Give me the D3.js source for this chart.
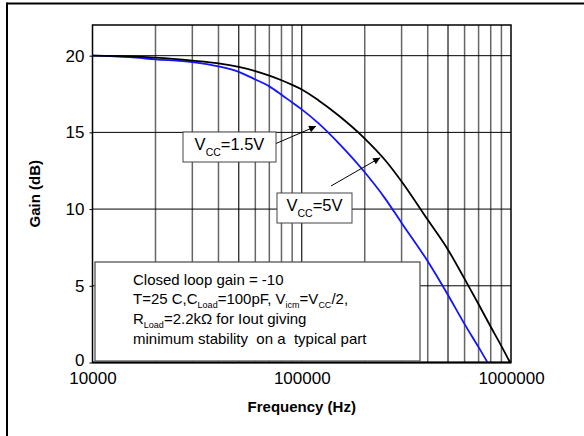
<!DOCTYPE html>
<html lang="en">
<head>
<meta charset="utf-8">
<script src="https://d3js.org/d3.v7.min.js"></script>
<style>
  body { margin: 0; background: #fff; }
  text { font-family: "Liberation Sans", Arial, Helvetica, sans-serif; }
</style>
</head>
<body>
<script>
// Vcc = 5V (black curve)
var freq5V = [10000, 15000, 20000, 30000, 40000, 50000, 60000, 70000, 80000, 90000,
              100000, 120000, 150000, 200000, 250000, 300000, 400000, 500000,
              600000, 700000, 800000, 900000, 990000];
var gain5V = [20.0, 19.95, 19.87, 19.68, 19.5, 19.27, 19.0, 18.7, 18.4, 18.1,
              17.8, 17.1, 16.1, 14.6, 13.2, 11.8, 9.3, 7.35,
              5.45, 3.8, 2.33, 1.07, 0];

// Vcc = 1.5V (blue curve)
var freq15V = [10000, 15000, 20000, 30000, 40000, 50000, 60000, 70000, 80000, 90000,
               100000, 120000, 150000, 200000, 250000, 300000, 400000, 500000,
               600000, 700000, 773000];
var gain15V = [20.0, 19.9, 19.76, 19.58, 19.3, 18.95, 18.45, 18.0, 17.46, 16.95,
               16.5, 15.6, 14.3, 12.4, 10.7, 9.1, 6.6, 4.4,
               2.5, 1.0, 0];

var xTicks = [10000, 100000, 1000000];
var yTicks = [0, 5, 10, 15, 20];

var width = 584, height = 436;
var pLeft = 92.5, pRight = 511, pTop = 25, pBottom = 362.5;

var svg = d3.select("body").append("svg")
    .attr("width", width)
    .attr("height", height);

// outer frame (top + left only)
svg.append("line").attr("x1", 7).attr("x2", width).attr("y1", 3.5).attr("y2", 3.5)
    .attr("stroke", "#000").attr("stroke-width", 2);
svg.append("line").attr("x1", 7).attr("x2", 7).attr("y1", 2.5).attr("y2", height)
    .attr("stroke", "#000").attr("stroke-width", 2);

var x = d3.scaleLog().domain([10000, 1000000]).range([pLeft, pRight]);
var y = d3.scaleLinear().domain([0, 22]).range([pBottom, pTop]);

// vertical grid: every 1..9 x decade
var vgrid = [];
for (var dec = 10000; dec < 1000000; dec *= 10) {
    for (var m = 2; m <= 9; m++) vgrid.push({ v: dec * m, m: m });
}
vgrid.push({ v: 100000, m: 1 });

svg.append("g").selectAll("line")
    .data(vgrid)
    .enter().append("line")
    .attr("x1", function (d) { return x(d.v); })
    .attr("x2", function (d) { return x(d.v); })
    .attr("y1", pTop).attr("y2", pBottom)
    .attr("stroke", function (d) { return (d.m == 1 || d.m == 5) ? "#000" : "#666"; })
    .attr("stroke-width", function (d) { return (d.m == 1 || d.m == 5) ? 1.1 : 1.5; });

// horizontal grid
svg.append("g").selectAll("line")
    .data(yTicks.filter(function (d) { return d > 0; }))
    .enter().append("line")
    .attr("x1", pLeft).attr("x2", pRight)
    .attr("y1", function (d) { return y(d); })
    .attr("y2", function (d) { return y(d); })
    .attr("stroke", "#000").attr("stroke-width", 1);

// axes
var xAxis = d3.axisBottom(x).tickValues(xTicks).tickSize(0).tickPadding(9)
    .tickFormat(d3.format("d"));
var gx = svg.append("g").attr("transform", "translate(0," + pBottom + ")").call(xAxis);
gx.select(".domain").remove();
gx.selectAll("text").attr("font-size", 17).attr("fill", "#000")
    .style("font-family", "'Liberation Sans', Arial, sans-serif");

var yAxis = d3.axisLeft(y).tickValues(yTicks).tickSize(3).tickPadding(5);
var gy = svg.append("g").attr("transform", "translate(" + pLeft + ",0)").call(yAxis);
gy.select(".domain").remove();
gy.selectAll("text").attr("font-size", 17).attr("fill", "#000")
    .style("font-family", "'Liberation Sans', Arial, sans-serif");
gy.selectAll(".tick").filter(function (d) { return d === 0; })
    .select("text").attr("dy", "0.2em");

// plot frame
svg.append("rect")
    .attr("x", pLeft).attr("y", pTop)
    .attr("width", pRight - pLeft).attr("height", pBottom - pTop)
    .attr("fill", "none").attr("stroke", "#000").attr("stroke-width", 1.5);

// curves
var line = d3.line()
    .curve(d3.curveMonotoneX)
    .x(function (d) { return x(d[0]); })
    .y(function (d) { return y(d[1]); });

svg.append("path")
    .datum(d3.zip(freq15V, gain15V))
    .attr("d", line)
    .attr("fill", "none").attr("stroke", "#1414ff").attr("stroke-width", 1.8);

svg.append("path")
    .datum(d3.zip(freq5V, gain5V))
    .attr("d", line)
    .attr("fill", "none").attr("stroke", "#000").attr("stroke-width", 1.8);

// bottom axis line drawn again on top
svg.append("line").attr("x1", pLeft).attr("x2", pRight).attr("y1", pBottom).attr("y2", pBottom)
    .attr("stroke", "#000").attr("stroke-width", 2);

// arrow head marker
svg.append("defs").append("marker")
    .attr("id", "arr").attr("viewBox", "0 0 10 10")
    .attr("refX", 10).attr("refY", 5)
    .attr("markerWidth", 9).attr("markerHeight", 7)
    .attr("markerUnits", "userSpaceOnUse")
    .attr("orient", "auto")
    .append("path").attr("d", "M0,0 L10,5 L0,10 z").attr("fill", "#000");

// annotation labels
function vccLabel(bx, by, bw, bh, value, tipF, tipG, fromX, fromY) {
    svg.append("line")
        .attr("x1", fromX).attr("y1", fromY)
        .attr("x2", x(tipF)).attr("y2", y(tipG))
        .attr("stroke", "#000").attr("stroke-width", 1)
        .attr("marker-end", "url(#arr)");
    svg.append("rect")
        .attr("x", bx).attr("y", by).attr("width", bw).attr("height", bh)
        .attr("fill", "#fff").attr("stroke", "#444").attr("stroke-width", 1);
    var t = svg.append("text")
        .attr("x", bx + bw / 2).attr("y", by + 18)
        .attr("text-anchor", "middle").attr("font-size", 16.5);
    t.append("tspan").text("V");
    t.append("tspan").attr("font-size", 10.5).attr("dy", 6).text("CC");
    t.append("tspan").attr("dy", -6).text("=" + value);
}
vccLabel(183, 132, 93, 30, "1.5V", 117000, 15.4, 276, 143.5);
vccLabel(277, 193, 75, 30, "5V", 237000, 13.35, 331, 186);

// conditions box
svg.append("rect")
    .attr("x", 95).attr("y", 262).attr("width", 325).attr("height", 99)
    .attr("fill", "#fff").attr("stroke", "#555").attr("stroke-width", 1.3);

var lx = 133, fs = 15, sub = 9;
svg.append("text").attr("x", lx).attr("y", 285).attr("font-size", fs)
    .text("Closed loop gain = -10");

var l2 = svg.append("text").attr("x", lx).attr("y", 304).attr("font-size", fs);
l2.append("tspan").text("T=25 C,C");
l2.append("tspan").attr("font-size", sub).attr("dy", 4).text("Load");
l2.append("tspan").attr("dy", -4).text("=100pF, V");
l2.append("tspan").attr("font-size", sub).attr("dy", 4).text("icm");
l2.append("tspan").attr("dy", -4).text("=V");
l2.append("tspan").attr("font-size", sub).attr("dy", 4).text("CC");
l2.append("tspan").attr("dy", -4).text("/2,");

var l3 = svg.append("text").attr("x", lx).attr("y", 324).attr("font-size", fs);
l3.append("tspan").text("R");
l3.append("tspan").attr("font-size", sub).attr("dy", 4).text("Load");
l3.append("tspan").attr("dy", -4).text("=2.2k\u03A9 for Iout giving");

svg.append("text").attr("x", lx).attr("y", 344).attr("font-size", fs)
    .style("white-space", "pre")
    .text("minimum stability  on a  typical part");

// axis titles
svg.append("text")
    .attr("x", (pLeft + pRight) / 2).attr("y", 412)
    .attr("text-anchor", "middle").attr("font-size", 15).attr("font-weight", "bold")
    .text("Frequency (Hz)");

svg.append("text")
    .attr("transform", "translate(40," + ((pTop + pBottom) / 2) + ") rotate(-90)")
    .attr("text-anchor", "middle").attr("font-size", 15).attr("font-weight", "bold")
    .text("Gain (dB)");
</script>
</body>
</html>
